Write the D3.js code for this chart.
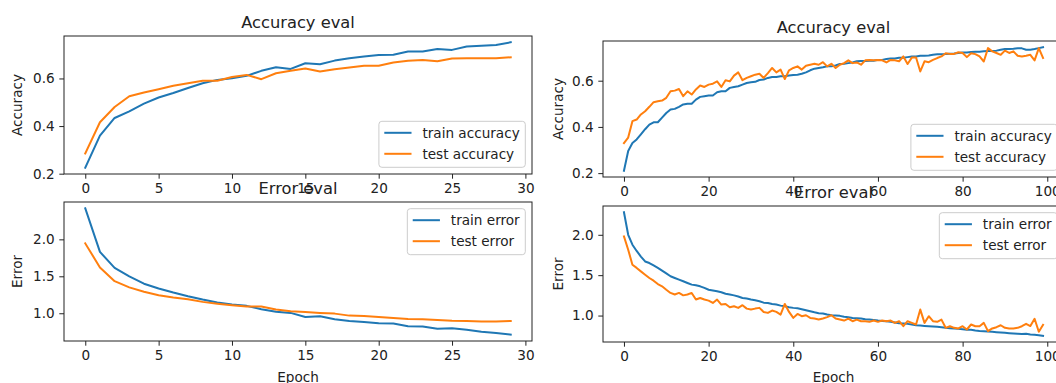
<!DOCTYPE html>
<html>
<head>
<meta charset="utf-8">
<script src="https://cdn.jsdelivr.net/npm/d3@7"></script>
<style>
  html, body { margin: 0; padding: 0; background: #fff; }
  svg { display: block; font-family: "DejaVu Sans", sans-serif; }
</style>
</head>
<body>
<svg id="chart" width="1056" height="383"></svg>
<script>
// ---------------- data ----------------
const seriesNamesAcc = ["train accuracy", "test accuracy"];
const seriesNamesErr = ["train error", "test error"];
const colors = ["#1f77b4", "#ff7f0e"];

// run 1: 30 epochs
const trainAcc30 = [0.225,0.36,0.434,0.462,0.494,0.52,0.539,0.56,0.58,0.594,0.601,0.611,0.632,0.647,0.64,0.664,0.66,0.675,0.685,0.692,0.699,0.70,0.713,0.713,0.724,0.72,0.734,0.737,0.741,0.752];
const testAcc30  = [0.285,0.416,0.48,0.525,0.541,0.555,0.569,0.58,0.59,0.59,0.606,0.615,0.597,0.622,0.632,0.642,0.629,0.639,0.646,0.653,0.653,0.667,0.674,0.678,0.672,0.684,0.685,0.685,0.685,0.689];
const trainErr30 = [2.42,1.83,1.615,1.50,1.40,1.335,1.28,1.23,1.185,1.145,1.118,1.10,1.055,1.02,1.005,0.95,0.96,0.92,0.895,0.882,0.864,0.86,0.824,0.82,0.79,0.796,0.778,0.75,0.733,0.71];
const testErr30  = [1.945,1.62,1.434,1.35,1.29,1.244,1.213,1.19,1.154,1.13,1.109,1.09,1.09,1.05,1.027,1.018,1.005,0.995,0.968,0.964,0.95,0.937,0.923,0.918,0.91,0.90,0.896,0.89,0.887,0.896];

// run 2: 100 epochs
const trainAcc100 = [0.21,0.296,0.33,0.346,0.368,0.39,0.41,0.42,0.42,0.44,0.46,0.475,0.478,0.487,0.497,0.50,0.50,0.518,0.53,0.533,
  0.536,0.536,0.55,0.554,0.554,0.569,0.573,0.576,0.583,0.59,0.593,0.595,0.603,0.605,0.612,0.616,0.616,0.619,0.619,0.622,
  0.625,0.626,0.63,0.636,0.645,0.652,0.655,0.658,0.662,0.662,0.666,0.672,0.673,0.676,0.679,0.684,0.685,0.685,0.686,0.686,
  0.69,0.69,0.694,0.696,0.696,0.699,0.699,0.702,0.705,0.705,0.708,0.708,0.709,0.712,0.714,0.714,0.715,0.717,0.718,0.72,
  0.722,0.722,0.724,0.725,0.725,0.727,0.728,0.728,0.73,0.734,0.737,0.737,0.738,0.74,0.74,0.734,0.734,0.737,0.741,0.745];
const testAcc100 = [0.33,0.354,0.425,0.432,0.454,0.468,0.487,0.507,0.511,0.514,0.526,0.554,0.557,0.564,0.533,0.554,0.54,0.562,0.579,0.573,
  0.583,0.587,0.597,0.573,0.602,0.597,0.622,0.636,0.602,0.612,0.619,0.626,0.63,0.612,0.633,0.655,0.636,0.648,0.607,0.645,
  0.655,0.662,0.648,0.665,0.669,0.673,0.669,0.68,0.662,0.673,0.655,0.669,0.676,0.688,0.676,0.679,0.669,0.688,0.69,0.688,
  0.69,0.688,0.679,0.69,0.688,0.684,0.705,0.672,0.70,0.70,0.64,0.684,0.68,0.69,0.698,0.705,0.719,0.716,0.716,0.723,
  0.72,0.702,0.719,0.715,0.705,0.683,0.741,0.727,0.72,0.712,0.73,0.72,0.727,0.708,0.705,0.708,0.712,0.688,0.741,0.698];
const trainErr100 = [2.28,2.0,1.877,1.80,1.73,1.67,1.65,1.62,1.59,1.556,1.523,1.486,1.465,1.444,1.424,1.403,1.383,1.374,1.362,1.342,
  1.32,1.31,1.30,1.288,1.27,1.26,1.25,1.235,1.218,1.21,1.198,1.19,1.177,1.16,1.156,1.144,1.136,1.123,1.115,1.103,
  1.095,1.09,1.078,1.066,1.053,1.04,1.029,1.025,1.012,1.004,1.0,0.996,0.984,0.98,0.971,0.967,0.963,0.955,0.95,0.946,
  0.938,0.934,0.93,0.922,0.914,0.905,0.901,0.897,0.889,0.88,0.877,0.872,0.868,0.864,0.86,0.856,0.848,0.844,0.84,0.835,
  0.83,0.823,0.823,0.815,0.81,0.807,0.802,0.798,0.794,0.79,0.786,0.782,0.778,0.774,0.77,0.774,0.765,0.761,0.757,0.749];
const testErr100 = [1.98,1.815,1.63,1.59,1.547,1.506,1.465,1.432,1.39,1.362,1.32,1.28,1.26,1.28,1.25,1.26,1.28,1.198,1.218,1.198,
  1.185,1.156,1.198,1.136,1.144,1.103,1.115,1.095,1.128,1.086,1.074,1.086,1.095,1.045,1.033,1.062,1.045,1.012,1.144,1.045,
  0.971,1.02,0.992,1.004,0.971,0.963,0.95,0.963,0.98,1.004,0.963,0.95,0.938,0.963,0.93,0.95,0.93,0.93,0.922,0.938,
  0.922,0.938,0.93,0.938,0.909,0.93,0.868,0.93,0.909,0.889,1.074,0.909,0.992,0.93,0.922,0.95,0.848,0.868,0.848,0.84,
  0.868,0.827,0.889,0.868,0.868,0.909,0.807,0.84,0.856,0.88,0.848,0.84,0.84,0.848,0.868,0.897,0.87,0.96,0.80,0.885];

const xTicks30 = [0, 5, 10, 15, 20, 25, 30];
const xTicks100 = [0, 20, 40, 60, 80, 100];
const accTicks = [0.2, 0.4, 0.6];
const errTicks = [1.0, 1.5, 2.0];

// ---------------- layout ----------------
const FS = 13.6, TFS = 16.3;
const TEXT = "#222";
const svg = d3.select("#chart");
let clipId = 0;

function padDomain(arrs) {
  const all = arrs.flat();
  const lo = d3.min(all), hi = d3.max(all), p = (hi - lo) * 0.05;
  return [lo - p, hi + p];
}

function panel(opt) {
  const { x0, x1, y0, y1, series, names, xTicks, yTicks, title, ylabel, xlabel, legendPos } = opt;
  const n = series[0].length;
  const x = d3.scaleLinear().domain([-(n - 1) * 0.05, (n - 1) * 1.05]).range([x0, x1]);
  const y = d3.scaleLinear().domain(padDomain(series)).range([y1, y0]);
  const g = svg.append("g");

  const id = "clip" + (clipId++);
  g.append("clipPath").attr("id", id).append("rect")
    .attr("x", x0).attr("y", y0).attr("width", x1 - x0).attr("height", y1 - y0);

  const line = d3.line().x((d, i) => x(i)).y(d => y(d));
  series.forEach((s, k) => {
    g.append("path").datum(s).attr("d", line)
      .attr("clip-path", `url(#${id})`)
      .attr("fill", "none").attr("stroke", colors[k]).attr("stroke-width", 2)
      .attr("stroke-linejoin", "round").attr("stroke-linecap", "square");
  });

  // axes via d3
  const xAxis = d3.axisBottom(x).tickValues(xTicks).tickFormat(d3.format("d")).tickSizeOuter(0).tickSize(4.7).tickPadding(4.7);
  const yAxis = d3.axisLeft(y).tickValues(yTicks).tickFormat(d3.format(".1f")).tickSizeOuter(0).tickSize(4.7).tickPadding(4.7);
  const gx = g.append("g").attr("transform", `translate(0,${y1})`).call(xAxis);
  const gy = g.append("g").attr("transform", `translate(${x0},0)`).call(yAxis);
  [gx, gy].forEach(a => {
    a.select(".domain").remove();
    a.selectAll(".tick line").attr("stroke", "#222").attr("stroke-width", 1);
    a.selectAll(".tick text").attr("fill", TEXT).style("font-size", FS + "px").style("font-family", "DejaVu Sans");
  });

  // frame
  g.append("rect").attr("x", x0).attr("y", y0).attr("width", x1 - x0).attr("height", y1 - y0)
    .attr("fill", "none").attr("stroke", "#222").attr("stroke-width", 1);

  // legend
  const lg = g.append("g");
  const texts = names.map((nm, k) => lg.append("text").text(nm).attr("fill", TEXT).style("font-size", FS + "px"));
  const tw = d3.max(texts, t => t.node().getComputedTextLength());
  const W = 5.4 + 27.2 + 10.9 + tw + 5.6, H = 46;
  const bx = x1 - 6.7 - W;
  const by = legendPos === "lower" ? y1 - 6.7 - H : y0 + 6.7;
  lg.insert("rect", ":first-child").attr("x", bx).attr("y", by).attr("width", W).attr("height", H)
    .attr("rx", 3).attr("fill", "white").attr("fill-opacity", 0.8).attr("stroke", "#cccccc").attr("stroke-width", 1);
  names.forEach((nm, k) => {
    const cy = by + 11.5 + k * 21;
    lg.append("line").attr("x1", bx + 5.4 + 1).attr("x2", bx + 5.4 + 27.2 - 1).attr("y1", cy).attr("y2", cy)
      .attr("stroke", colors[k]).attr("stroke-width", 2).attr("stroke-linecap", "square");
    texts[k].attr("x", bx + 43.5).attr("y", cy).attr("dy", "0.35em");
  });

  // title
  g.append("text").attr("x", (x0 + x1) / 2).attr("y", y0 - 8).attr("text-anchor", "middle")
    .attr("fill", TEXT).style("font-size", TFS + "px").text(title);
  // y label
  const yl = opt.ylabelX;
  g.append("text").attr("transform", `translate(${yl},${(y0 + y1) / 2}) rotate(-90)`).attr("text-anchor", "middle")
    .attr("fill", TEXT).style("font-size", FS + "px").text(ylabel);
  if (xlabel) {
    g.append("text").attr("x", (x0 + x1) / 2).attr("y", 382).attr("text-anchor", "middle")
      .attr("fill", TEXT).style("font-size", FS + "px").text(xlabel);
  }
}

// left figure (30 epochs)
panel({ x0: 64, x1: 532, y0: 36, y1: 174, series: [trainAcc30, testAcc30], names: seriesNamesAcc,
  xTicks: xTicks30, yTicks: accTicks, title: "Accuracy eval", ylabel: "Accuracy", ylabelX: 22, legendPos: "lower" });
panel({ x0: 64, x1: 532, y0: 202, y1: 341, series: [trainErr30, testErr30], names: seriesNamesErr,
  xTicks: xTicks30, yTicks: errTicks, title: "Error eval", ylabel: "Error", ylabelX: 22, xlabel: "Epoch", legendPos: "upper" });
// right figure (100 epochs)
panel({ x0: 603, x1: 1064, y0: 41, y1: 177, series: [trainAcc100, testAcc100], names: seriesNamesAcc,
  xTicks: xTicks100, yTicks: accTicks, title: "Accuracy eval", ylabel: "Accuracy", ylabelX: 563, legendPos: "lower" });
panel({ x0: 603, x1: 1064, y0: 206, y1: 342, series: [trainErr100, testErr100], names: seriesNamesErr,
  xTicks: xTicks100, yTicks: errTicks, title: "Error eval", ylabel: "Error", ylabelX: 563, xlabel: "Epoch", legendPos: "upper" });
</script>
</body>
</html>
